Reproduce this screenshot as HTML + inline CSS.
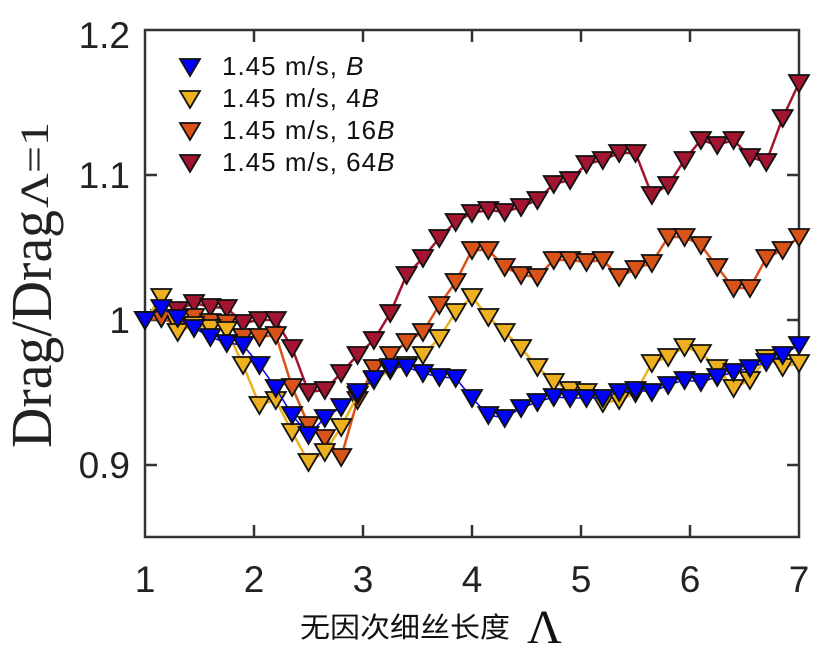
<!DOCTYPE html>
<html><head><meta charset="utf-8"><style>
body{margin:0;background:#fff;width:822px;height:652px;overflow:hidden}
svg{display:block}
</style></head><body>
<svg id="s" width="822" height="652" xmlns="http://www.w3.org/2000/svg" font-family="Liberation Sans, sans-serif">
<rect x="145" y="30" width="654" height="507" fill="#fff" stroke="#333" stroke-width="2.5"/>
<g stroke="#333" stroke-width="2.5">
<line x1="145" y1="175" x2="157" y2="175"/><line x1="145" y1="320" x2="157" y2="320"/><line x1="145" y1="465" x2="157" y2="465"/>
<line x1="799" y1="175" x2="787" y2="175"/><line x1="799" y1="320" x2="787" y2="320"/><line x1="799" y1="465" x2="787" y2="465"/>
<line x1="254" y1="537" x2="254" y2="525"/><line x1="363" y1="537" x2="363" y2="525"/><line x1="472" y1="537" x2="472" y2="525"/><line x1="581" y1="537" x2="581" y2="525"/><line x1="690" y1="537" x2="690" y2="525"/>
<line x1="254" y1="30" x2="254" y2="42"/><line x1="363" y1="30" x2="363" y2="42"/><line x1="472" y1="30" x2="472" y2="42"/><line x1="581" y1="30" x2="581" y2="42"/><line x1="690" y1="30" x2="690" y2="42"/>
</g>
<g font-size="37" fill="#222" text-anchor="end">
<text x="130" y="48">1.2</text><text x="130" y="188">1.1</text><text x="130" y="333">1</text><text x="130" y="478">0.9</text>
</g>
<g font-size="37" fill="#222" text-anchor="middle">
<text x="145" y="592">1</text><text x="254" y="592">2</text><text x="363" y="592">3</text><text x="472" y="592">4</text><text x="581" y="592">5</text><text x="690" y="592">6</text><text x="799" y="592">7</text>
</g>
<text x="300" y="637" font-size="28" font-family="'Noto Sans CJK SC', sans-serif" fill="#111" textLength="210" lengthAdjust="spacingAndGlyphs">无因次细丝长度</text>
<text x="527" y="643" font-size="48" font-family="Liberation Serif, serif" fill="#111">Λ</text>
<g transform="translate(51,448) rotate(-90)" font-family="Liberation Serif, serif" fill="#222">
<text x="0" y="0" font-size="58" textLength="238" lengthAdjust="spacingAndGlyphs">Drag/Drag</text>
<text x="240" y="-3" font-size="40" textLength="86" lengthAdjust="spacingAndGlyphs">Λ=1</text>
</g>
<g id="data"></g>
<g font-size="26" fill="#111" letter-spacing="1">
<text x="222" y="75">1.45 m/s, <tspan font-style="italic">B</tspan></text>
<text x="222" y="107">1.45 m/s, 4<tspan font-style="italic">B</tspan></text>
<text x="222" y="139">1.45 m/s, 16<tspan font-style="italic">B</tspan></text>
<text x="222" y="171">1.45 m/s, 64<tspan font-style="italic">B</tspan></text>
</g>
<g id="leg"></g>
</svg>
<script>
var NS="http://www.w3.org/2000/svg";
var S=[
["#a2142f",2.5,[320,318,310,303,307,308,323,320,320,348,392,390,373,355,340,313,275,258,238,222,213,210,212,207,200,184,180,164,160,153,153,195,185,160,140,145,140,157,162,118,83]],
["#d95319",2.5,[320,318,325,317,322,323,337,337,335,387,425,438,457,400,368,355,342,332,305,282,250,250,267,275,277,260,260,262,260,277,269,263,237,237,245,267,288,288,258,250,237]],
["#edb120",2.5,[320,297,332,325,328,330,365,405,400,432,462,452,427,395,380,370,365,355,338,312,297,317,332,348,367,382,390,392,403,400,393,363,357,347,353,368,388,380,358,367,363]],
["#0000ff",1.5,[320,308,318,328,337,343,345,365,388,415,435,418,407,392,379,367,367,373,377,378,398,415,418,408,402,397,398,398,398,392,390,392,385,380,382,377,372,368,362,355,345]]
];
var g=document.getElementById("data");
function tri(x,y,c,p){var t=document.createElementNS(NS,"polygon");
t.setAttribute("points",(x-10)+","+(y-8)+" "+(x+10)+","+(y-8)+" "+x+","+(y+9));
t.setAttribute("fill",c);t.setAttribute("stroke","#111");t.setAttribute("stroke-width","1.8");p.appendChild(t);}
S.forEach(function(s){var pts=s[2].map(function(y,i){return [145+16.35*i,y];});
var l=document.createElementNS(NS,"polyline");l.setAttribute("points",pts.map(function(p){return p.join(",")}).join(" "));
l.setAttribute("fill","none");l.setAttribute("stroke",s[0]);l.setAttribute("stroke-width",s[1]);g.appendChild(l);
pts.forEach(function(p){tri(p[0],p[1],s[0],g);});});
var lg=document.getElementById("leg");
tri(190,67,"#0000ff",lg);tri(190,99,"#edb120",lg);tri(190,131,"#d95319",lg);tri(190,163,"#a2142f",lg);
</script>
</body></html>
